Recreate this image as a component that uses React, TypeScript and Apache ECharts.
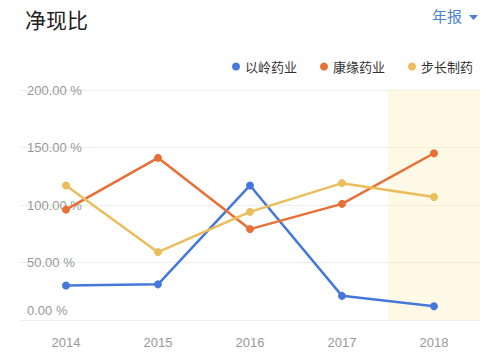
import React, { useEffect, useRef } from "react";
import * as echarts from "echarts";

const years = ["2014", "2015", "2016", "2017", "2018"];
const seriesNames = ["以岭药业", "康缘药业", "步长制药"];
const yilingValues = [30, 31, 117, 21, 12];
const kangyuanValues = [96, 141, 79, 101, 145];
const buchangValues = [117, 59, 94, 119, 107];
const highlightValues = [null, null, null, null, 200];
const colors = ["#4677db", "#e86f35", "#ebbd5b"];

export default function App() {
  const ref = useRef<HTMLDivElement>(null);
  useEffect(() => {
    const chart = echarts.init(ref.current!, null, { renderer: "svg" });
    const lineSeries = [yilingValues, kangyuanValues, buchangValues].map((d, i) => ({
      name: seriesNames[i],
      type: "line",
      data: d,
      symbol: "circle",
      symbolSize: 8,
      z: 5,
      lineStyle: { width: 2.5, color: colors[i] },
      itemStyle: { color: colors[i] },
    }));
    chart.setOption({
      animation: false,
      title: {
        text: "净现比",
        left: 20,
        top: 3,
        textStyle: { fontSize: 21, fontWeight: "normal", color: "#222", fontFamily: "Noto Sans CJK SC" },
      },
      graphic: [
        {
          type: "text",
          right: 38,
          top: 8,
          style: { text: "年报", fontSize: 15, fill: "#4a7fd6", fontFamily: "Noto Sans CJK SC" },
        },
        {
          type: "polygon",
          right: 22,
          top: 15,
          shape: { points: [[0, 0], [9, 0], [4.5, 5]] },
          style: { fill: "#4a7fd6" },
        },
      ],
      legend: {
        right: 22,
        top: 55,
        icon: "circle",
        itemWidth: 8,
        itemHeight: 8,
        itemGap: 23,
        data: seriesNames,
        textStyle: { fontSize: 13, color: "#333", fontFamily: "Noto Sans CJK SC" },
      },
      grid: { left: 20, right: 20, top: 90, bottom: 35 },
      xAxis: {
        type: "category",
        data: years,
        boundaryGap: true,
        axisLine: { show: false },
        axisTick: { show: false },
        axisLabel: { color: "#999", fontSize: 13, margin: 16 },
      },
      yAxis: {
        type: "value",
        min: 0,
        max: 200,
        interval: 50,
        axisLine: { show: false },
        axisTick: { show: false },
        splitLine: { lineStyle: { color: "#eeeeee" } },
        axisLabel: {
          inside: true,
          margin: 7,
          color: "#999",
          fontSize: 13,
          formatter: (v: number) => (v === 0 ? "{b|0.00 %}" : v.toFixed(2) + " %"),
          rich: { b: { color: "#999", fontSize: 13, padding: [0, 0, 20, 0] } },
        },
      },
      series: [
        {
          name: "highlight",
          type: "bar",
          data: highlightValues,
          barWidth: "100%",
          silent: true,
          z: 0,
          itemStyle: { color: "rgba(255, 236, 170, 0.3)" },
        },
        ...lineSeries,
      ],
    });
    return () => chart.dispose();
  }, []);
  return <div ref={ref} style={{ width: 500, height: 355, position: "absolute", left: 0, top: 0 }} />;
}
